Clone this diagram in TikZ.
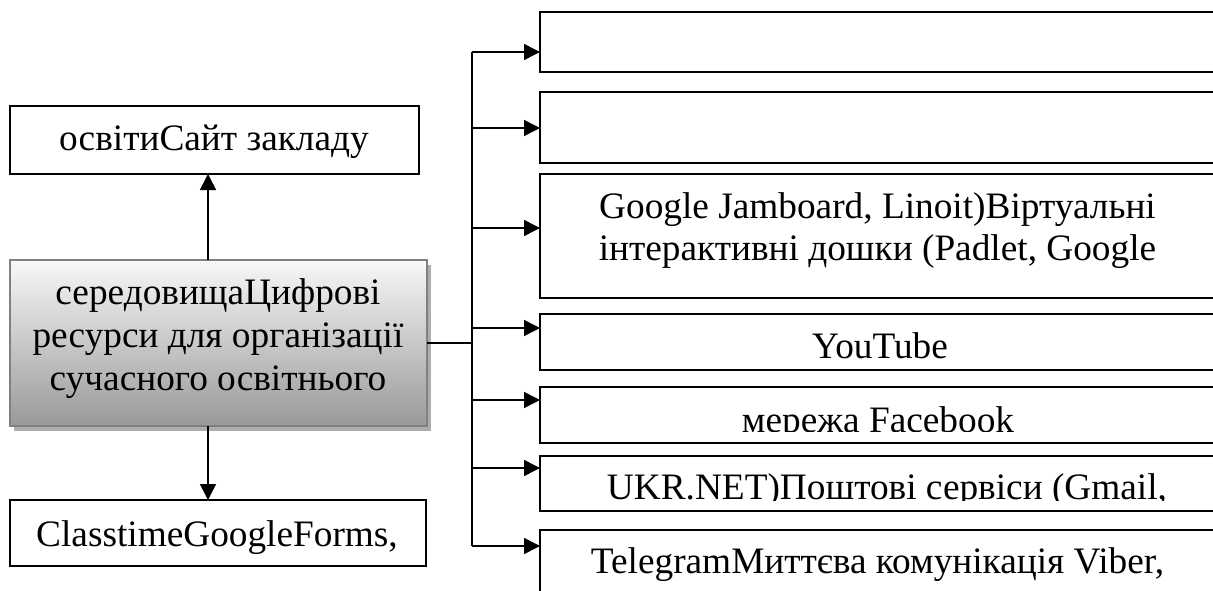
\documentclass[tikz,border=0pt]{standalone}
\usepackage{fontspec}
\setmainfont{Liberation Serif}
\usetikzlibrary{arrows.meta,shadows}
\begin{document}
\begin{tikzpicture}[x=1pt,y=-1pt,
  box/.style={draw=black,line width=1.4pt,fill=white,inner sep=0pt,outer sep=0pt},
  mainbox/.style={draw=gray,line width=2pt,inner sep=0pt,outer sep=0pt,
    top color=black!3,bottom color=black!40,
    drop shadow={shadow xshift=4pt,shadow yshift=-5pt,fill=black!32,opacity=1}},
  txt/.style={anchor=base,inner sep=0pt,outer sep=0pt,font=\fontsize{37.3}{42.9}\selectfont},
  conn/.style={line width=1.5pt},
  arr/.style={conn,-{Triangle[length=16pt,width=16pt]}}]
\useasboundingbox (0,0) rectangle (1213,591);
\clip (0,0) rectangle (1213,591);
% left column
\node[box,minimum width=409pt,minimum height=68pt] (top) at (214.5,140) {};
\node[mainbox,minimum width=417pt,minimum height=166pt] (c) at (218.25,343) {};
\node[box,minimum width=416pt,minimum height=66pt] (bot) at (218,533) {};
\node[txt] (ttop) at (214,151) {освітиСайт закладу};
\node[txt] (tc1) at (218,304) {середовищаЦифрові};
\node[txt] (tc2) at (218,347) {ресурси для організації};
\node[txt] (tc3) at (218,390) {сучасного освітнього};
\node[txt] (tbot) at (217,546) {ClasstimeGoogleForms,};
% right column
\node[box,minimum width=675pt,minimum height=60pt] (b1) at (877.5,42) {};
\node[box,minimum width=675pt,minimum height=71pt] (b2) at (877.5,127.5) {};
\node[box,minimum width=675pt,minimum height=124pt] (b3) at (877.5,236) {};
\node[box,minimum width=675pt,minimum height=56pt] (b4) at (877.5,342) {};
\node[box,minimum width=675pt,minimum height=56pt] (b5) at (877.5,415) {};
\node[box,minimum width=675pt,minimum height=55pt] (b6) at (877.5,483.5) {};
\node[box,minimum width=675pt,minimum height=90pt] (b7) at (877.5,575) {};
\node[txt] (t3a) at (877.5,218) {Google Jamboard, Linoit)Віртуальні};
\node[txt] (t3b) at (877.5,260) {інтерактивні дошки (Padlet, Google};
\node[txt] (t4) at (880,358) {YouTube};
\begin{scope}
  \clip (b5.north west) rectangle ([yshift=11.5pt]b5.south east);
  \node[txt] (t5) at (878,432) {мережа Facebook};
\end{scope}
\begin{scope}
  \clip (b6.north west) rectangle ([yshift=10.5pt]b6.south east);
  \node[txt] (t6) at (887,499) {UKR.NET)Поштові сервіси (Gmail,};
\end{scope}
\node[txt] (t7) at (877.5,573) {TelegramМиттєва комунікація Viber,};
% connectors
\coordinate (ux) at (208,0);
\draw[arr] (ux |- c.north) -- (ux |- top.south);
\draw[arr] (ux |- c.south) -- (ux |- bot.north);
\coordinate (j) at (472,343);
\coordinate (a1) at (472,52);
\coordinate (a2) at (472,128);
\coordinate (a3) at (472,228);
\coordinate (a4) at (472,328);
\coordinate (a5) at (472,400);
\coordinate (a6) at (472,468);
\coordinate (a7) at (472,546);
\draw[conn] (c.east) -- (j);
\draw[conn] (a1) -- (a7);
\draw[arr] (a1) -- (b1.west |- a1);
\draw[arr] (a2) -- (b2.west |- a2);
\draw[arr] (a3) -- (b3.west |- a3);
\draw[arr] (a4) -- (b4.west |- a4);
\draw[arr] (a5) -- (b5.west |- a5);
\draw[arr] (a6) -- (b6.west |- a6);
\draw[arr] (a7) -- (b7.west |- a7);
\end{tikzpicture}
\end{document}
